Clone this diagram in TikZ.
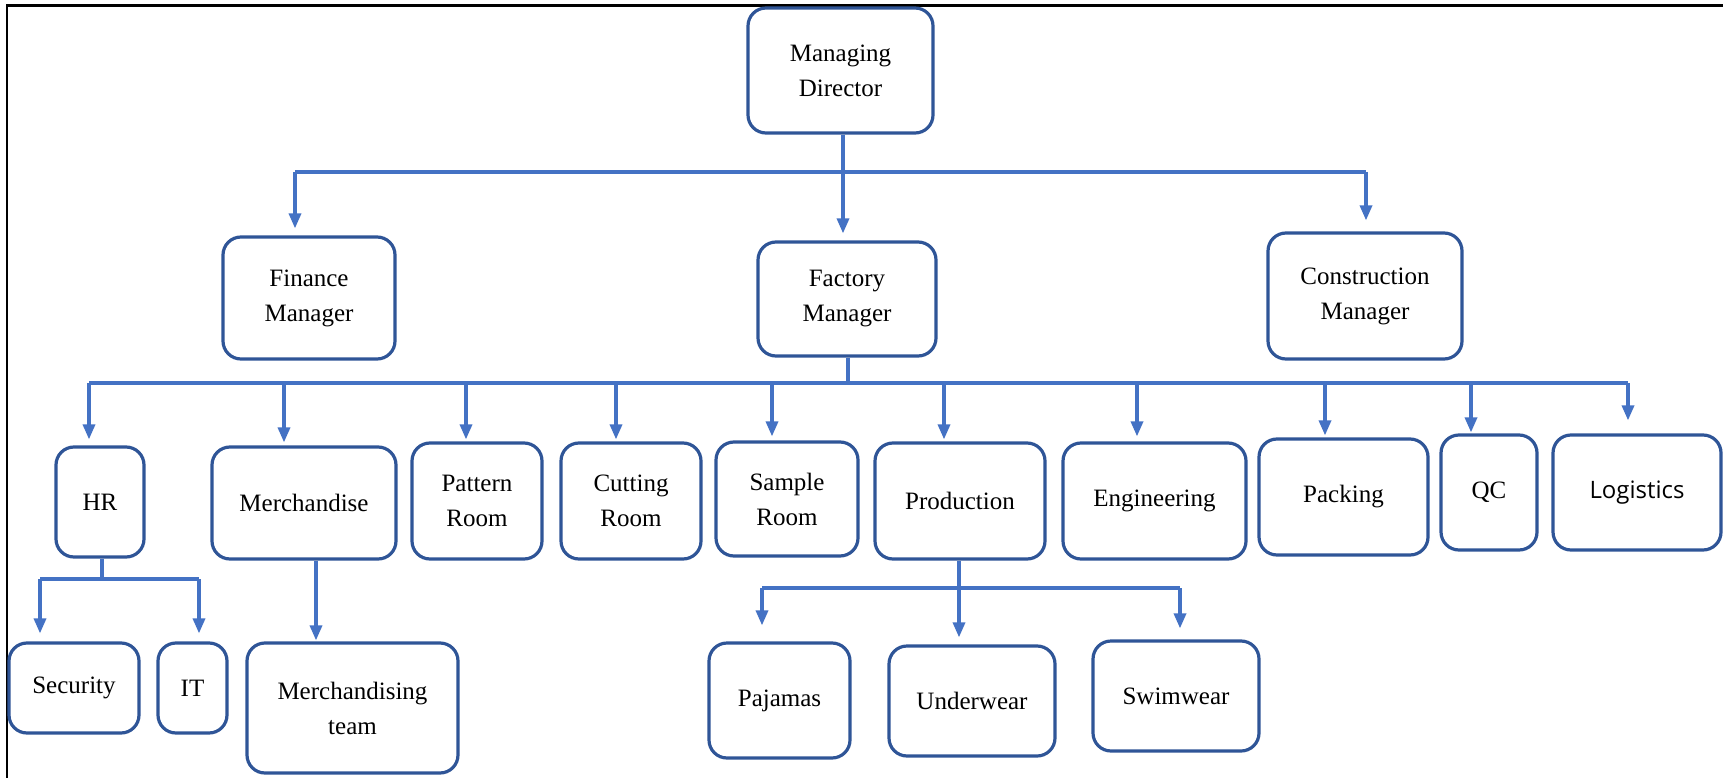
\documentclass[tikz,border=0pt]{standalone}
\usepackage{fontspec}
\setmainfont{Liberation Serif}
\newfontfamily\logisticsfont{Open Sans}
\usetikzlibrary{arrows.meta}
\definecolor{boxline}{HTML}{2F5597}
\definecolor{linkline}{HTML}{4472C4}
\tikzset{
  unit/.style={draw=boxline, line width=3.2pt, rounded corners=18pt, align=center,
    inner sep=0pt, font=\fontsize{25}{35}\selectfont},
  link/.style={draw=linkline, line width=3.3pt},
  drop/.style={link, -{Triangle[length=15pt,width=12pt]}, shorten >=#1},
  drop/.default=2pt,
}
\begin{document}
\begin{tikzpicture}[x=1pt, y=-1pt]
\useasboundingbox (0,0) rectangle (1723,778);
% page frame (top and left edges only)
\draw[black, line width=2.5pt] (7,778) -- (7,5.5) -- (1723,5.5);

% ---- boxes ----
\node[unit, minimum width=185pt, minimum height=125pt] (md)  at (840.5,70.5) {Managing\\Director};
\node[unit, minimum width=172pt, minimum height=122pt] (fin) at (309,298)    {Finance\\Manager};
\node[unit, minimum width=178pt, minimum height=114pt] (fac) at (847,299)    {Factory\\Manager};
\node[unit, minimum width=194pt, minimum height=126pt] (con) at (1365,296)   {Construction\\Manager};

\node[unit, minimum width=88pt,  minimum height=110pt] (hr)  at (100,502)    {HR};
\node[unit, minimum width=184pt, minimum height=112pt] (mer) at (304,503)    {Merchandise};
\node[unit, minimum width=130pt, minimum height=116pt] (pat) at (477,501)    {Pattern\\Room};
\node[unit, minimum width=140pt, minimum height=116pt] (cut) at (631,501)    {Cutting\\Room};
\node[unit, minimum width=142pt, minimum height=114pt] (sam) at (787,499)    {Sample\\Room};
\node[unit, minimum width=170pt, minimum height=116pt] (pro) at (960,501)    {Production};
\node[unit, minimum width=183pt, minimum height=116pt] (eng) at (1154.5,501) {Engineering};
\node[unit, minimum width=169pt, minimum height=116pt] (pac) at (1343.5,497) {Packing};
\node[unit, minimum width=96pt,  minimum height=115pt] (qc)  at (1489,492.5) {QC};
\node[unit, minimum width=168pt, minimum height=115pt,
      font=\logisticsfont\fontsize{24}{30}\selectfont] (log) at (1637,492.5) {Logistics};

\node[unit, minimum width=130pt, minimum height=90pt]  (sec) at (74,688)     {Security};
\node[unit, minimum width=69pt,  minimum height=90pt]  (it)  at (192.5,688)  {IT};
\node[unit, minimum width=211pt, minimum height=130pt] (mtm) at (352.5,708)  {Merchandising\\team};
\node[unit, minimum width=141pt, minimum height=115pt] (paj) at (779.5,700.5) {Pajamas};
\node[unit, minimum width=166pt, minimum height=110pt] (und) at (972,701)    {Underwear};
\node[unit, minimum width=166pt, minimum height=110pt] (swi) at (1176,696)   {Swimwear};

% ---- Managing Director to managers ----
\coordinate (jmd)  at (843,172);
\coordinate (jfin) at (295,172);
\coordinate (jcon) at (1366,172);
\draw[link] (jmd |- md.south) -- (jmd);
\draw[link] (jfin) -- (jcon);
\draw[drop=7pt]  (jfin) -- (jfin |- fin.north);
\draw[drop=7pt]  (jmd)  -- (jmd |- fac.north);
\draw[drop=11pt] (jcon) -- (jcon |- con.north);

% ---- Factory Manager to departments ----
\coordinate (jfac) at (848,383);
\coordinate (bL)   at (89,383);
\coordinate (bR)   at (1628,383);
\draw[link] (jfac |- fac.south) -- (jfac);
\draw[link] (bL) -- (bR);
\coordinate (dmer) at (284,383);
\coordinate (dpat) at (466,383);
\coordinate (dcut) at (616,383);
\coordinate (dsam) at (772,383);
\coordinate (dpro) at (944,383);
\coordinate (deng) at (1137,383);
\coordinate (dpac) at (1325,383);
\coordinate (dqc)  at (1471,383);
\draw[drop=6pt]  (bL)   -- (bL |- hr.north);
\draw[drop=3pt]  (dmer) -- (dmer |- mer.north);
\draw[drop=2pt]  (dpat) -- (dpat |- pat.north);
\draw[drop=2pt]  (dcut) -- (dcut |- cut.north);
\draw[drop=4pt]  (dsam) -- (dsam |- sam.north);
\draw[drop=2pt]  (dpro) -- (dpro |- pro.north);
\draw[drop=5pt]  (deng) -- (deng |- eng.north);
\draw[drop=2pt]  (dpac) -- (dpac |- pac.north);
\draw[drop=1pt]  (dqc)  -- (dqc |- qc.north);
\draw[drop=13pt] (bR)   -- (bR |- log.north);

% ---- HR to Security and IT ----
\coordinate (jhr)  at (102,579);
\coordinate (jsec) at (40,579);
\coordinate (jit)  at (199,579);
\draw[link] (jhr |- hr.south) -- (jhr);
\draw[link] (jsec) -- (jit);
\draw[drop=8pt] (jsec) -- (jsec |- sec.north);
\draw[drop=8pt] (jit)  -- (jit |- it.north);

% ---- Merchandise to Merchandising team ----
\coordinate (xmer) at (316,600);
\draw[drop=1pt] (xmer |- mer.south) -- (xmer |- mtm.north);

% ---- Production to product lines ----
\coordinate (jpro) at (959,588);
\coordinate (jpaj) at (762,588);
\coordinate (jswi) at (1180,588);
\draw[drop=7pt]  (jpro |- pro.south) -- (jpro |- und.north);
\draw[link] (jpaj) -- (jswi);
\draw[drop=16pt] (jpaj) -- (jpaj |- paj.north);
\draw[drop=11pt] (jswi) -- (jswi |- swi.north);
\end{tikzpicture}
\end{document}
